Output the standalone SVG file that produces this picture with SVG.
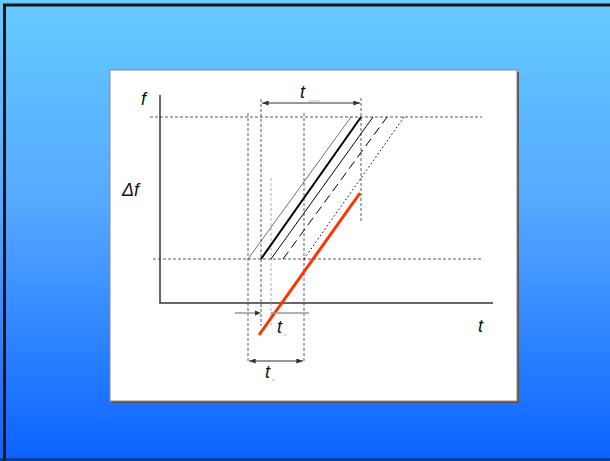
<svg xmlns="http://www.w3.org/2000/svg" width="610" height="461" viewBox="0 0 610 461">
<defs>
<linearGradient id="bg" x1="0" y1="0" x2="0" y2="1">
<stop offset="0" stop-color="#66CBFF"/>
<stop offset="0.45" stop-color="#55A8FF"/>
<stop offset="1" stop-color="#0A62FF"/>
</linearGradient>
<marker id="ah" viewBox="0 0 8 6" refX="8" refY="3" markerWidth="7" markerHeight="5" orient="auto-start-reverse" markerUnits="userSpaceOnUse">
<path d="M0,0 L8,3 L0,6 z" fill="#333"/>
</marker>
<style>
.axis{stroke:#333;stroke-width:1.5;fill:none}
.dash{stroke:#333;stroke-width:0.8;stroke-dasharray:3,2;fill:none}
.gdash{stroke:#999;stroke-width:0.8;stroke-dasharray:3,2;fill:none}
.lbl{font-family:"Liberation Sans",Arial,sans-serif;font-style:italic;font-size:18px;fill:#111}
.sub{font-family:"Liberation Sans",Arial,sans-serif;font-size:4px;fill:#aaa}
.dim{stroke:#333;stroke-width:1;fill:none}
.gline{stroke:#999;stroke-width:1.5;fill:none}
</style>
</defs>
<rect x="0" y="0" width="610" height="461" fill="url(#bg)"/>
<path d="M4.5,461 V5 H610" stroke="#111" stroke-width="3" fill="none"/>
<path d="M0,459.5 H610" stroke="#0a2a55" stroke-width="2"/>
<g id="panel">
<rect x="112" y="72" width="407" height="331" fill="#555"/>
<rect x="110" y="70" width="407" height="331" fill="#fff" stroke="#888" stroke-width="1"/>
</g>
<g id="axes">
<line class="axis" x1="160" y1="95" x2="160" y2="303"/>
<line class="axis" x1="159.3" y1="303" x2="493" y2="303"/>
<text class="lbl" x="141" y="105">f</text>
<text class="lbl" x="122" y="196">Δf</text>
<text class="lbl" x="478" y="332">t</text>
</g>
<g id="guides">
<line class="dash" x1="150" y1="117" x2="482" y2="117"/>
<line class="dash" x1="153" y1="259" x2="483" y2="259"/>
<line class="dash" x1="248" y1="113" x2="248" y2="363"/>
<line class="dash" x1="261" y1="99" x2="261" y2="326"/>
<line class="gdash" x1="271" y1="178" x2="271" y2="327"/>
<line class="dash" x1="304" y1="113" x2="304" y2="363"/>
<line class="dash" x1="361" y1="98" x2="361" y2="222"/>
</g>
<g id="ramps">
<line x1="248" y1="259" x2="351" y2="117" stroke="#333" stroke-width="0.7"/>
<line x1="261" y1="259" x2="361" y2="117" stroke="#000" stroke-width="2"/>
<line x1="271" y1="259" x2="373" y2="117" stroke="#000" stroke-width="1"/>
<line x1="283" y1="259" x2="387" y2="117" stroke="#000" stroke-width="1" stroke-dasharray="9,5"/>
<line x1="304" y1="259" x2="404" y2="117" stroke="#000" stroke-width="1" stroke-dasharray="1.5,2.5"/>
<line x1="259" y1="335" x2="360" y2="193" stroke="#FF3300" stroke-width="3"/>
</g>
<g id="dimensions">
<line class="dim" x1="262" y1="103" x2="360" y2="103" marker-start="url(#ah)" marker-end="url(#ah)"/>
<text class="lbl" x="300" y="98">t</text>
<text class="sub" x="308" y="102">sweep</text>
<line class="gline" x1="235" y1="313" x2="255" y2="313"/>
<path d="M261,313 L255,310.5 L255,315.5 z" fill="#333"/>
<line class="gline" x1="271" y1="313" x2="309" y2="313"/>
<text class="lbl" x="277" y="333">t</text>
<text class="sub" x="284" y="336">d</text>
<line class="dim" x1="249" y1="361" x2="303" y2="361" marker-start="url(#ah)" marker-end="url(#ah)"/>
<text class="lbl" x="265" y="378">t</text>
<text class="sub" x="272" y="381">d</text>
</g>
</svg>
